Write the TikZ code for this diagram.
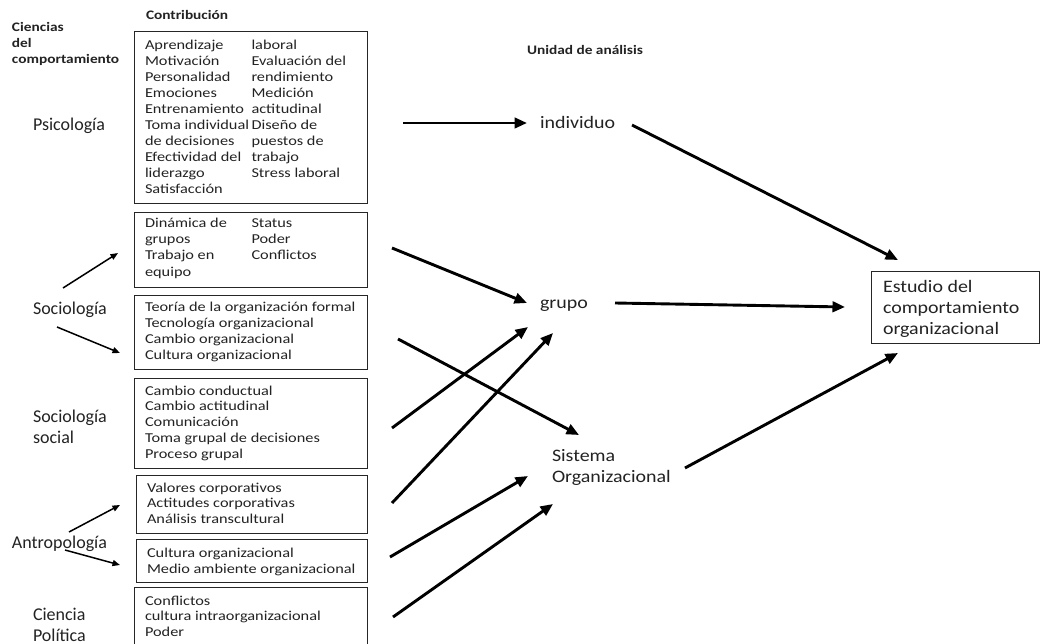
\documentclass[tikz,border=0pt]{standalone}
\usepackage{fontspec}
\setmainfont{Carlito}
\newfontfamily\smallfont{Carlito}[FakeStretch=1.2]
\newfontfamily\midfont{Carlito}[FakeStretch=1.14]
\newfontfamily\hdrfont{Carlito}[FakeStretch=1.18]
\usetikzlibrary{arrows.meta}
\definecolor{txtcol}{RGB}{35,35,35}
\newcommand{\ml}[1]{\vtop{\let\\\cr\halign{##\hfil\cr#1\crcr}}}
\begin{document}
\begin{tikzpicture}[x=1pt,y=-1pt,
  txt/.style={anchor=base west, inner sep=0pt, outer sep=0pt, text=txtcol},
  boxtxt/.style={txt, font=\smallfont\fontsize{13.6}{16}\selectfont},
  hdr/.style={txt, font=\hdrfont\bfseries\fontsize{13}{16}\selectfont},
  biglab/.style={txt, font=\fontsize{18}{21.5}\selectfont},
  midlab/.style={txt, font=\midfont\fontsize{17.5}{21}\selectfont},
  box/.style={draw=black!85, line width=1pt, fill=white, anchor=north west, inner sep=0pt},
  arr/.style={line width=2.9pt, -{Triangle[length=12.5pt,width=10.5pt]}},
  sarr/.style={line width=1.5pt, -{Triangle[length=7.5pt,width=6pt]}}]
\useasboundingbox (0,0) rectangle (1040,644);
\clip (0,0) rectangle (1040,644);
\fill[white] (0,0) rectangle (1040,644);

% headers
\node[hdr] (hcien) at (12,32) {\ml{Ciencias\\del\\comportamiento}};
\node[hdr] (hcont) at (146,20) {Contribución};
\node[hdr] (hunid) at (527,55) {Unidad de análisis};

% left labels
\node[biglab] (psi) at (33,131) {Psicología};
\node[biglab] (soc) at (33,314) {Sociología};
\node[biglab] (socsoc) at (33,422) {\ml{Sociología\\social}};
\node[biglab] (antro) at (12,548) {Antropología};
\node[biglab] (cpol) at (33,620) {\ml{Ciencia\\Política}};

% boxes
\node[box, minimum width=233pt, minimum height=172pt] (b1) at (134,31) {};
\node[box, minimum width=233pt, minimum height=75pt] (b2) at (134,212) {};
\node[box, minimum width=233pt, minimum height=74pt] (b3) at (134,295) {};
\node[box, minimum width=233pt, minimum height=90pt] (b4) at (134,378) {};
\node[box, minimum width=231pt, minimum height=58pt] (b5) at (136,475) {};
\node[box, minimum width=231pt, minimum height=43pt] (b6) at (136,539) {};
\node[box, minimum width=233pt, minimum height=80pt] (b7) at (134,587) {};

% box texts
\node[boxtxt] (t1a) at (145,50) {\ml{Aprendizaje\\Motivación\\Personalidad\\Emociones\\Entrenamiento\\Toma individual\\de decisiones\\Efectividad del\\liderazgo\\Satisfacción}};
\node[boxtxt] (t1b) at (251.5,50) {\ml{laboral\\Evaluación del\\rendimiento\\Medición\\actitudinal\\Diseño de\\puestos de\\trabajo\\Stress laboral}};
\node[boxtxt] (t2a) at (145,228) {\ml{Dinámica de\\grupos\\Trabajo en\\equipo}};
\node[boxtxt] (t2b) at (251.5,228) {\ml{Status\\Poder\\Conflictos}};
\node[boxtxt] (t3) at (145,311) {\ml{Teoría de la organización formal\\Tecnología organizacional\\Cambio organizacional\\Cultura organizacional}};
\node[boxtxt, font=\smallfont\fontsize{13.6}{15.8}\selectfont] (t4) at (145,395) {\ml{Cambio conductual\\Cambio actitudinal\\Comunicación\\Toma grupal de decisiones\\Proceso grupal}};
\node[boxtxt, font=\smallfont\fontsize{13.6}{15.8}\selectfont] (t5) at (147,492) {\ml{Valores corporativos\\Actitudes corporativas\\Análisis transcultural}};
\node[boxtxt] (t6) at (147,557) {\ml{Cultura organizacional\\Medio ambiente organizacional}};
\node[boxtxt, font=\smallfont\fontsize{13.6}{15.6}\selectfont] (t7) at (145,605) {\ml{Conflictos\\cultura intraorganizacional\\Poder}};

% units of analysis
\node[midlab] (ind) at (540,129) {individuo};
\node[midlab] (gru) at (540,308) {grupo};
\node[midlab] (sis) at (552,461) {\ml{Sistema\\Organizacional}};
\node[box, minimum width=168pt, minimum height=72pt] (est) at (871,271) {};
\node[midlab] (estt) at (883,292) {\ml{Estudio del\\comportamiento\\organizacional}};

% connector end points
\coordinate (psiE) at (403,123);  \coordinate (indW) at (527,123);
\coordinate (indE) at (632,125);  \coordinate (estNW) at (898,260);
\coordinate (gruE) at (615,303);  \coordinate (estW) at (845,307);
\coordinate (sisE) at (685,468);  \coordinate (estSW) at (898,353);
\coordinate (b2E) at (392,248);   \coordinate (gruW) at (527,303);
\coordinate (b4E) at (392,428);   \coordinate (gruSW) at (528,327);
\coordinate (b5E) at (392,503);   \coordinate (gruS) at (553,333);
\coordinate (b3E) at (398,339);   \coordinate (sisN) at (579,435);
\coordinate (b6E) at (390,557);   \coordinate (sisW) at (528,476);
\coordinate (b7E) at (393,617);   \coordinate (sisSW) at (553,504);
\coordinate (socA) at (63,288);   \coordinate (b2W) at (118,253);
\coordinate (socB) at (57,327);   \coordinate (b3W) at (120,353);
\coordinate (antA) at (69,532);   \coordinate (b5W) at (120,505);
\coordinate (antB) at (65,550);   \coordinate (b6W) at (120,565);

\draw[arr] (psiE) -- (indW);
\draw[arr] (indE) -- (estNW);
\draw[arr] (gruE) -- (estW);
\draw[arr] (sisE) -- (estSW);
\draw[arr] (b2E) -- (gruW);
\draw[arr] (b4E) -- (gruSW);
\draw[arr] (b5E) -- (gruS);
\draw[arr] (b3E) -- (sisN);
\draw[arr] (b6E) -- (sisW);
\draw[arr] (b7E) -- (sisSW);
\draw[sarr] (socA) -- (b2W);
\draw[sarr] (socB) -- (b3W);
\draw[sarr] (antA) -- (b5W);
\draw[sarr] (antB) -- (b6W);
\end{tikzpicture}
\end{document}
